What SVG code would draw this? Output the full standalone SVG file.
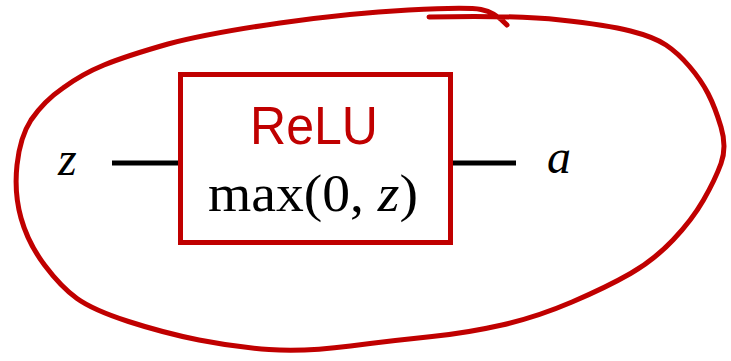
<svg xmlns="http://www.w3.org/2000/svg" width="731" height="361" viewBox="0 0 731 361">
<style>
.red{stroke:#C00000;fill:none}
.wire{stroke:#000;stroke-width:5;fill:none}
.math{font-family:"Liberation Serif","DejaVu Serif",serif;fill:#000}
.title{font-family:"Liberation Sans","Open Sans",sans-serif;fill:#C00000}
</style>
<rect width="731" height="361" fill="#fff"/>
<g id="loop">
<path class="red" stroke-width="5" stroke-linecap="round" stroke-linejoin="round" d="M429,17 Q514,15 560.5,20 Q607,25 630.5,31 Q654,37 666,45 Q678,53 689.5,66.5 Q701,80 708,93.5 Q715,107 721,127 Q727,147 721,163.5 Q715,180 703.5,200 Q692,220 673,240 Q654,260 630.5,273.5 Q607,287 572,302 Q537,317 502,325 Q467,333 432,336.5 Q397,340 350.5,346 Q304,352 269,349.5 Q234,347 199,340 Q164,333 128.5,321.5 Q93,310 77,298.5 Q61,287 44.5,265 Q28,243 21,218 Q14,193 17,165 Q20,137 31,120 Q44,101 63,88 Q82,74 104,65 Q126,56 168,44 Q210,33 280,23 Q350,13 408.5,10 Q467,7 481,9.5 Q495,12 507,25"/>
</g>
<g id="connectors">
<line class="wire" x1="112" y1="163" x2="180" y2="163"/>
<line class="wire" x1="451" y1="163" x2="516" y2="163"/>
</g>
<g id="relu">
<rect class="red" stroke-width="5" x="180.5" y="74.5" width="270" height="168"/>
<text class="title" x="314" y="144" font-size="54" text-anchor="middle" textLength="128" lengthAdjust="spacingAndGlyphs">ReLU</text>
<text class="math" x="208" y="211" font-size="52" textLength="210" lengthAdjust="spacingAndGlyphs">max(0, <tspan font-style="italic">z</tspan>)</text>
</g>
<g id="input">
<text class="math" x="58" y="175" font-size="48" font-style="italic">z</text>
</g>
<g id="output">
<text class="math" x="547" y="173" font-size="48" font-style="italic">a</text>
</g>
</svg>
